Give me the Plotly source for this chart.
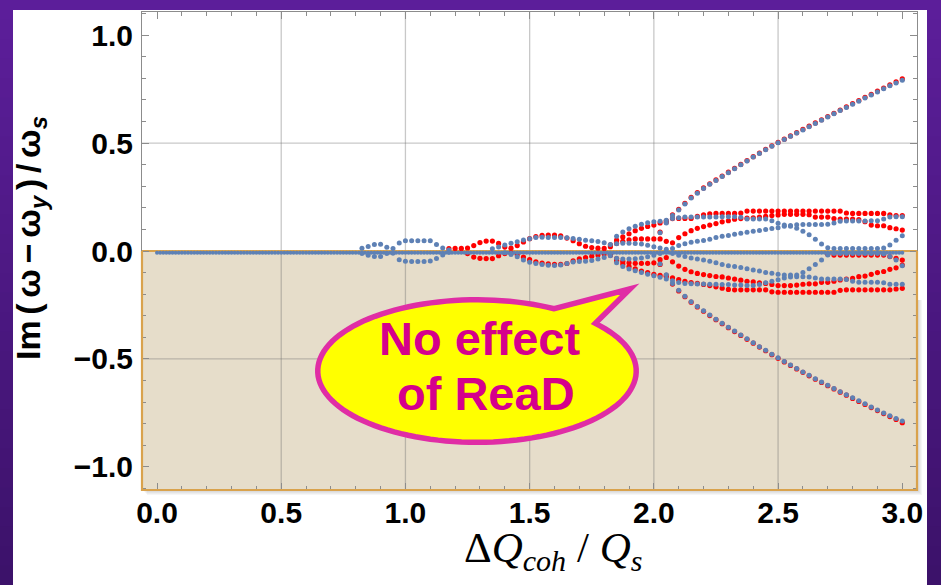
import numpy as np
import plotly.graph_objects as go

# Grid spacing of the computed ΔQ_coh/Q_s values
STEP = 0.025

# Each branch: (first ΔQ_coh/Q_s value, Im(ω-ω_y)/ω_s values on the STEP grid)
# --- without ReaD (blue) ---
blue_hump1_up = (0.825, [0.013, 0.021, 0.030, 0.031, 0.017])
blue_hump1_dn = (0.825, [-0.012, -0.020, -0.026, -0.026, -0.012])
blue_hump2_up = (0.950, [0.012, 0.037, 0.047, 0.048, 0.048, 0.048, 0.047, 0.030, 0.014, 0.005])
blue_hump2_dn = (0.950, [-0.010, -0.040, -0.048, -0.049, -0.049, -0.049, -0.046, -0.035, -0.018, -0.006])
blue_rise_up = (1.350, [
    0.010, 0.018,
    0.028, 0.036, 0.043, 0.051,
    0.057, 0.062, 0.064, 0.063,
    0.062, 0.062, 0.061, 0.058,
    0.054, 0.050, 0.047, 0.044,
    0.038, 0.030, 0.068, 0.088,
    0.103, 0.115, 0.124, 0.131,
    0.135, 0.138, 0.143, 0.150,
    0.154, 0.157, 0.157, 0.157,
    0.157, 0.157, 0.158, 0.159,
    0.159, 0.159, 0.156, 0.148,
    0.148, 0.148, 0.148, 0.140,
    0.128, 0.120, 0.115, 0.105,
    0.092, 0.075, 0.055, 0.032,
    0.015, 0.012, 0.012, 0.012,
    0.012, 0.012, 0.012, 0.012,
    0.012, 0.014, 0.028, 0.050,
    0.071])
blue_low_up = (1.850, [0.034, 0.036, 0.036, 0.035, 0.033, 0.027, 0.020, 0.014, 0.008])
blue_mid_up = (2.075, [
    0.012,
    0.026, 0.034, 0.040, 0.045,
    0.049, 0.055, 0.062, 0.068,
    0.072, 0.078, 0.082, 0.087,
    0.092, 0.095, 0.100, 0.104,
    0.108, 0.115, 0.118, 0.122,
    0.123, 0.123, 0.123, 0.123,
    0.124, 0.130, 0.138, 0.139,
    0.139, 0.139, 0.139, 0.140,
    0.140, 0.148, 0.157, 0.159,
    0.159])
blue_diag_up = (2.025, [
    0.085, 0.130, 0.165,
    0.190, 0.218, 0.245, 0.268,
    0.290, 0.309, 0.327, 0.345,
    0.363, 0.381, 0.399, 0.417,
    0.435, 0.452, 0.469, 0.485,
    0.501, 0.516, 0.531, 0.546,
    0.561, 0.576, 0.591, 0.606,
    0.621, 0.636, 0.651, 0.665,
    0.680, 0.694, 0.709, 0.723,
    0.737, 0.751, 0.765, 0.778,
    0.791])
blue_diag_dn = (2.025, [
    -0.060, -0.110, -0.150,
    -0.182, -0.210, -0.235, -0.257,
    -0.277, -0.297, -0.316, -0.335,
    -0.353, -0.371, -0.389, -0.407,
    -0.425, -0.443, -0.460, -0.478,
    -0.495, -0.512, -0.528, -0.544,
    -0.560, -0.576, -0.592, -0.607,
    -0.622, -0.637, -0.652, -0.666,
    -0.680, -0.694, -0.708, -0.722,
    -0.736, -0.750, -0.763, -0.776,
    -0.787])
blue_fall_dn = (1.400, [
    -0.008, -0.016, -0.027, -0.042,
    -0.052, -0.058, -0.062, -0.066,
    -0.067, -0.065, -0.058, -0.051,
    -0.049, -0.047, -0.044, -0.037,
    -0.030, -0.022, -0.055, -0.072,
    -0.083, -0.092, -0.100, -0.108,
    -0.115, -0.122, -0.130, -0.138,
    -0.146, -0.150, -0.152, -0.153,
    -0.153, -0.154, -0.154, -0.155,
    -0.155, -0.157, -0.158, -0.160,
    -0.160, -0.155, -0.147, -0.140,
    -0.133, -0.125, -0.120, -0.119,
    -0.119, -0.120, -0.125, -0.130,
    -0.130, -0.130, -0.130, -0.132,
    -0.140, -0.145, -0.145, -0.145,
    -0.145, -0.147, -0.154, -0.154,
    -0.154])
blue_mid_dn = (2.050, [
    -0.005, -0.012,
    -0.020, -0.026, -0.032, -0.037,
    -0.042, -0.048, -0.055, -0.062,
    -0.068, -0.072, -0.077, -0.082,
    -0.088, -0.093, -0.100, -0.103,
    -0.108, -0.111, -0.111, -0.111,
    -0.100, -0.082, -0.062, -0.042,
    -0.018, -0.012, -0.012, -0.012,
    -0.012, -0.012, -0.012, -0.012,
    -0.012, -0.014, -0.026, -0.042,
    -0.068])
blue_low_dn = (1.850, [-0.034, -0.037, -0.037, -0.036, -0.033, -0.027, -0.020, -0.012])

# --- with ReaD (red) ---
red_rise_up = (1.175, [
    0.011,
    0.012, 0.012, 0.014, 0.025,
    0.039, 0.046, 0.046, 0.035,
    0.018, 0.013, 0.025, 0.042,
    0.057, 0.067, 0.072, 0.074,
    0.074, 0.070, 0.060, 0.048,
    0.034, 0.022, 0.016, 0.013,
    0.012, 0.028, 0.050, 0.065,
    0.080, 0.094, 0.105, 0.114,
    0.120, 0.130, 0.140, 0.150,
    0.151, 0.151, 0.151, 0.160,
    0.168, 0.172, 0.174, 0.174,
    0.174, 0.174, 0.176, 0.185,
    0.185, 0.185, 0.185, 0.185,
    0.185, 0.185, 0.185, 0.185,
    0.185, 0.185, 0.185, 0.185,
    0.185, 0.185, 0.185, 0.176,
    0.174, 0.174, 0.174, 0.174,
    0.174, 0.174, 0.168, 0.164,
    0.164])
red_flat_up = (1.825, [
    0.020, 0.035, 0.045,
    0.052, 0.056, 0.056, 0.056,
    0.056, 0.056, 0.045, 0.038,
    0.062, 0.080, 0.094, 0.105,
    0.113, 0.120, 0.127, 0.135,
    0.140, 0.147, 0.150, 0.152,
    0.154, 0.157, 0.160, 0.164,
    0.167, 0.170, 0.170, 0.170,
    0.170, 0.168, 0.157, 0.157,
    0.157, 0.150, 0.148, 0.148,
    0.148, 0.145, 0.136, 0.120,
    0.117, 0.117, 0.108, 0.103,
    0.097])
red_fall_dn = (1.250, [
    -0.012, -0.028,
    -0.034, -0.035, -0.035, -0.022,
    -0.012, -0.010, -0.016, -0.028,
    -0.040, -0.050, -0.056, -0.060,
    -0.062, -0.062, -0.058, -0.046,
    -0.036, -0.030, -0.024, -0.018,
    -0.014, -0.020, -0.045, -0.060,
    -0.072, -0.083, -0.093, -0.100,
    -0.108, -0.113, -0.118, -0.124,
    -0.133, -0.140, -0.146, -0.150,
    -0.155, -0.160, -0.166, -0.172,
    -0.178, -0.180, -0.180, -0.180,
    -0.180, -0.180, -0.180, -0.189,
    -0.191, -0.191, -0.191, -0.191,
    -0.191, -0.191, -0.191, -0.191,
    -0.191, -0.191, -0.182, -0.180,
    -0.180, -0.180, -0.180, -0.180,
    -0.180, -0.180, -0.180, -0.176,
    -0.173])
red_flat_dn = (1.825, [
    -0.018, -0.035, -0.048,
    -0.055, -0.057, -0.057, -0.057,
    -0.055, -0.040, -0.030, -0.050,
    -0.070, -0.085, -0.096, -0.104,
    -0.109, -0.114, -0.118, -0.120,
    -0.125, -0.130, -0.135, -0.140,
    -0.143, -0.147, -0.150, -0.155,
    -0.160, -0.160, -0.160, -0.158,
    -0.154, -0.152, -0.152, -0.145,
    -0.145, -0.140, -0.134, -0.130,
    -0.127, -0.119, -0.116, -0.108,
    -0.100, -0.095, -0.085, -0.078,
    -0.065])
red_near_dn = (2.700, [-0.015, -0.019, -0.019, -0.019, -0.019, -0.019, -0.019,
                       -0.019, -0.019, -0.019, -0.026, -0.034, -0.042])
red_diag_up = (2.025, [
    0.088, 0.133, 0.168, 0.193, 0.221, 0.248, 0.271, 0.292, 0.311, 0.329,
    0.347, 0.365, 0.383, 0.401, 0.419, 0.437, 0.454, 0.471, 0.487, 0.503,
    0.518, 0.533, 0.548, 0.563, 0.578, 0.593, 0.608, 0.623, 0.638, 0.653,
    0.668, 0.683, 0.697, 0.712, 0.726, 0.741, 0.755, 0.769, 0.783, 0.797])
red_diag_dn = (2.025, [
    -0.062, -0.113, -0.153, -0.185, -0.212, -0.237, -0.259, -0.279, -0.299, -0.318,
    -0.337, -0.355, -0.373, -0.391, -0.409, -0.427, -0.445, -0.462, -0.480, -0.497,
    -0.514, -0.530, -0.546, -0.562, -0.578, -0.594, -0.609, -0.624, -0.639, -0.654,
    -0.668, -0.683, -0.697, -0.711, -0.725, -0.739, -0.753, -0.767, -0.780, -0.795])

# weakly damped modes sitting just under Im = 0 over the whole scan
zero_x = np.round(np.arange(0.0, 3.0001, 0.0125), 4)
zero_im = [-0.008] * len(zero_x)

blue_branches = [blue_hump1_up, blue_hump1_dn, blue_hump2_up, blue_hump2_dn,
                 blue_rise_up, blue_low_up, blue_mid_up, blue_diag_up,
                 blue_diag_dn, blue_fall_dn, blue_mid_dn, blue_low_dn]
red_branches = [red_rise_up, red_flat_up, red_fall_dn, red_flat_dn,
                red_near_dn, red_diag_up, red_diag_dn]

GRID_X = [0.5, 1.0, 1.5, 2.0, 2.5]
GRID_Y = [-0.5, 0.5]

BLUE = "#5E81B5"
RED = "#FF0000"
FRAME = "#8C8C8C"
ORANGE = "#D9A24C"
TAN = "#E6DDCA"

W, H = 941, 585
M_L, M_R, M_T, M_B = 142, 24, 12, 95
PW, PH = W - M_L - M_R, H - M_T - M_B
X_RANGE = [-0.0604, 3.0592]
Y_RANGE = [-1.107, 1.107]


def px_x(px):
    return (px - M_L) / PW


def px_y(py):
    return (H - M_B - py) / PH


def branch_xy(branch):
    start, vals = branch
    xs = [round(start + STEP * i, 4) for i in range(len(vals))]
    return xs, vals


fig = go.Figure()

for br in red_branches:
    xs, ys = branch_xy(br)
    fig.add_trace(go.Scatter(x=xs, y=ys, mode="markers", hoverinfo="skip",
                             marker=dict(color=RED, size=5.2, line=dict(width=0)),
                             showlegend=False))

fig.add_trace(go.Scatter(x=zero_x, y=zero_im, mode="markers", hoverinfo="skip",
                         marker=dict(color=BLUE, size=4, line=dict(width=0)),
                         showlegend=False))
for br in blue_branches:
    xs, ys = branch_xy(br)
    fig.add_trace(go.Scatter(x=xs, y=ys, mode="markers", hoverinfo="skip",
                             marker=dict(color=BLUE, size=5, line=dict(width=0)),
                             showlegend=False))

shapes = []

# purple slide background with a vertical gradient
top_rgb = np.array([92, 30, 154])
bot_rgb = np.array([60, 18, 106])
n_strips = 30
for i in range(n_strips):
    t = i / (n_strips - 1)
    c = top_rgb * (1 - t) + bot_rgb * t
    shapes.append(dict(type="rect", xref="paper", yref="paper",
                       x0=px_x(-2), x1=px_x(W + 2),
                       y0=px_y((i + 1) * H / n_strips + 1), y1=px_y(i * H / n_strips),
                       fillcolor=f"rgb({c[0]:.0f},{c[1]:.0f},{c[2]:.0f})",
                       line=dict(width=0), layer="below"))

# white panel carrying the plot
shapes.append(dict(type="rect", xref="paper", yref="paper",
                   x0=px_x(13), x1=px_x(927), y0=px_y(H + 4), y1=px_y(10),
                   fillcolor="white", line=dict(width=0), layer="below"))

# soft drop shadow of the stable (Im < 0) region
for k in range(1, 6):
    shapes.append(dict(type="rect", xref="paper", yref="paper",
                       x0=px_x(M_L + k), x1=px_x(W - M_R + k),
                       y0=px_y(H - M_B + k), y1=px_y(300),
                       fillcolor="rgba(0,0,0,0.035)", line=dict(width=0), layer="below"))

# stable half-plane
shapes.append(dict(type="rect", xref="x", yref="y",
                   x0=X_RANGE[0], x1=X_RANGE[1], y0=Y_RANGE[0], y1=0,
                   fillcolor=TAN, line=dict(width=0), layer="below"))

# grid lines
for gx in GRID_X:
    shapes.append(dict(type="line", xref="x", yref="y", x0=gx, x1=gx,
                       y0=Y_RANGE[0], y1=Y_RANGE[1],
                       line=dict(color="rgba(110,110,110,0.38)", width=1.3), layer="below"))
for gy in GRID_Y:
    shapes.append(dict(type="line", xref="x", yref="y", x0=X_RANGE[0], x1=X_RANGE[1],
                       y0=gy, y1=gy,
                       line=dict(color="rgba(110,110,110,0.38)", width=1.3), layer="below"))

# orange outline of the stable region
shapes.append(dict(type="line", xref="x", yref="y", x0=X_RANGE[0], x1=X_RANGE[1],
                   y0=0, y1=0, line=dict(color=ORANGE, width=2.2), layer="between"))
y0p = (0 - Y_RANGE[0]) / (Y_RANGE[1] - Y_RANGE[0])
shapes.append(dict(type="path", xref="paper", yref="paper",
                   path=f"M 0,{y0p:.4f} L 0,0 L 1,0 L 1,{y0p:.4f}",
                   line=dict(color=ORANGE, width=2.2), layer="above"))

# speech bubble
cx, cy = 1.288, -0.556
ra, rb = 0.641, 0.330
tip = (1.905, -0.175)
theta = np.radians(np.linspace(61.0, 42.0 + 360.0, 120))
ex = cx + ra * np.cos(theta)
ey = cy + rb * np.sin(theta)
pts = [f"{x:.4f},{y:.4f}" for x, y in zip(ex, ey)]
bubble_path = "M " + " L ".join(pts) + f" L {tip[0]},{tip[1]} Z"
shapes.append(dict(type="path", xref="x", yref="y", path=bubble_path,
                   fillcolor="#FFFF00", line=dict(color="#E02DA5", width=5.5),
                   layer="above"))

SP = "\u200a\u200a"
ytitle = (f"Im{SP}({SP}ω{SP}−{SP}ω<sub><i>y</i></sub>{SP}){SP}/{SP}"
          f"ω<sub><i>s</i></sub>")

annotations = [
    dict(text="No effect", x=1.300, y=-0.407, xref="x", yref="y", showarrow=False,
         font=dict(family="Liberation Sans", size=47, color="#D5008C", weight="bold")),
    dict(text="of ReaD", x=1.325, y=-0.662, xref="x", yref="y", showarrow=False,
         font=dict(family="Liberation Sans", size=47, color="#D5008C", weight="bold")),
    dict(text=ytitle, textangle=-90,
         x=px_x(31), y=px_y(238), xref="paper", yref="paper", showarrow=False,
         xanchor="center", yanchor="middle",
         font=dict(family="Liberation Sans", size=34, color="black", weight="bold")),
    dict(text="Δ<i>Q</i><sub><i>coh</i></sub> / <i>Q</i><sub><i>s</i></sub>",
         x=px_x(553), y=px_y(551), xref="paper", yref="paper", showarrow=False,
         xanchor="center", yanchor="middle",
         font=dict(family="Liberation Serif", size=43, color="black")),
]

tickfont = dict(family="Liberation Sans", size=30, color="black", weight="bold")
axis_common = dict(
    showgrid=False, zeroline=False, showline=True, linecolor=FRAME, linewidth=1,
    mirror="ticks", ticks="inside", ticklen=7, tickwidth=1, tickcolor=FRAME,
    tick0=0, dtick=0.5, tickformat=".1f", tickfont=tickfont,
    minor=dict(dtick=0.1, tick0=0, ticks="inside", ticklen=4, tickwidth=1,
               tickcolor=FRAME, showgrid=False),
)

fig.update_layout(
    width=W, height=H,
    margin=dict(l=M_L, r=M_R, t=M_T, b=M_B),
    paper_bgcolor="rgb(76,24,130)",
    plot_bgcolor="white",
    xaxis=dict(range=X_RANGE, ticklabelstandoff=-4, **axis_common),
    yaxis=dict(range=Y_RANGE, ticklabelstandoff=2, **axis_common),
    shapes=shapes,
    annotations=annotations,
    showlegend=False,
)

fig.write_html("out.html")
